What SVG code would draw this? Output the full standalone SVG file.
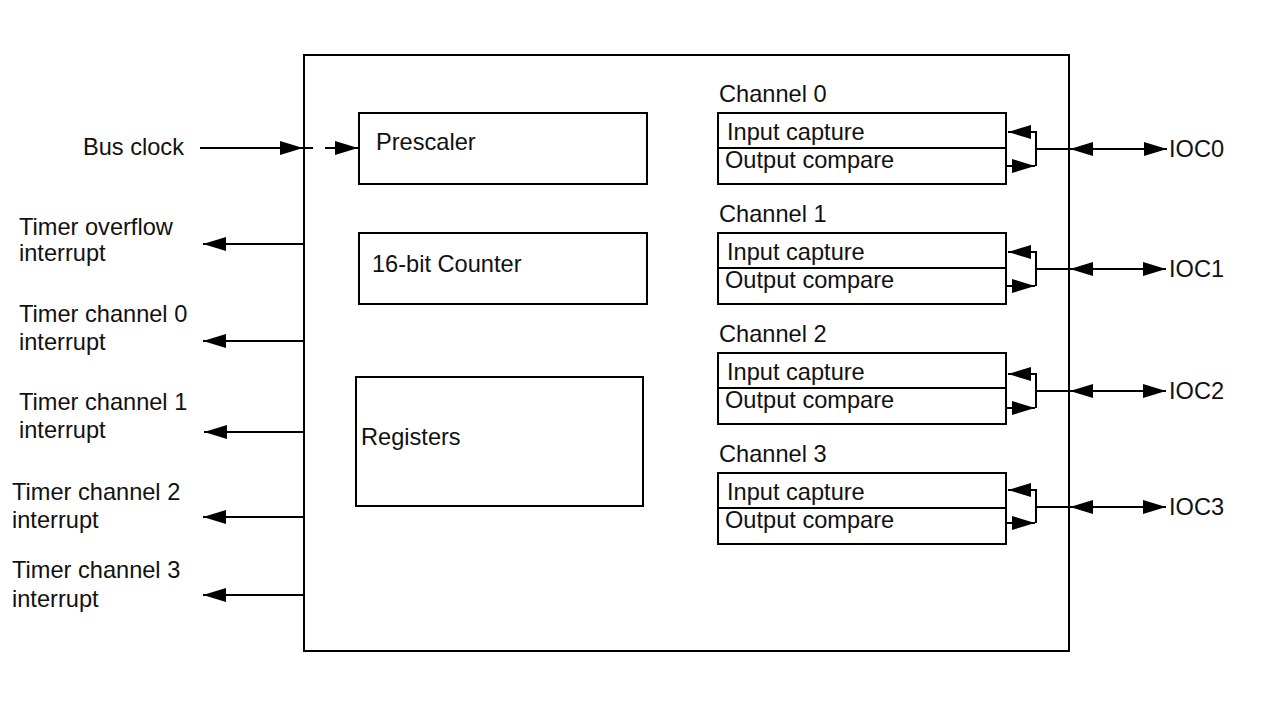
<svg xmlns="http://www.w3.org/2000/svg" width="1269" height="704" viewBox="0 0 1269 704">
<defs>
<marker id="ah" markerUnits="userSpaceOnUse" markerWidth="23" markerHeight="14" refX="23" refY="7" orient="auto-start-reverse" viewBox="0 0 23 14">
<path d="M0,0 L23,7 L0,14 z" fill="#000"/>
</marker>
<style>
.box{fill:#fff;stroke:#000;stroke-width:2}
.ln{fill:none;stroke:#000;stroke-width:2}
.t{font-family:"Liberation Sans",Arial,sans-serif;font-size:23.6px;fill:#111}
.arr{fill:none;stroke:#000;stroke-width:2;marker-end:url(#ah)}
.dbl{fill:none;stroke:#000;stroke-width:2;marker-start:url(#ah);marker-end:url(#ah)}
</style>
</defs>
<rect width="1269" height="704" fill="#fff"/>
<g id="timer">
<rect class="box" x="304" y="55" width="765" height="596"/>
</g>
<g id="prescaler">
<rect class="box" x="359" y="113" width="288" height="71"/>
<text class="t" x="376" y="150">Prescaler</text>
</g>
<g id="counter">
<rect class="box" x="359" y="233" width="288" height="71"/>
<text class="t" x="372" y="272">16-bit Counter</text>
</g>
<g id="registers">
<rect class="box" x="356" y="377" width="287" height="129"/>
<text class="t" x="361" y="445">Registers</text>
</g>
<g id="channel0">
<text class="t" x="719" y="102">Channel 0</text>
<rect class="box" x="718" y="113" width="288" height="71"/>
<line class="ln" x1="718" y1="148" x2="1006" y2="148"/>
<text class="t" x="727" y="140">Input capture</text>
<text class="t" x="725" y="168">Output compare</text>
</g>
<g id="channel1">
<text class="t" x="719" y="222">Channel 1</text>
<rect class="box" x="718" y="233" width="288" height="71"/>
<line class="ln" x1="718" y1="268" x2="1006" y2="268"/>
<text class="t" x="727" y="260">Input capture</text>
<text class="t" x="725" y="288">Output compare</text>
</g>
<g id="channel2">
<text class="t" x="719" y="342">Channel 2</text>
<rect class="box" x="718" y="353" width="288" height="71"/>
<line class="ln" x1="718" y1="388" x2="1006" y2="388"/>
<text class="t" x="727" y="380">Input capture</text>
<text class="t" x="725" y="408">Output compare</text>
</g>
<g id="channel3">
<text class="t" x="719" y="462">Channel 3</text>
<rect class="box" x="718" y="473" width="288" height="71"/>
<line class="ln" x1="718" y1="508" x2="1006" y2="508"/>
<text class="t" x="727" y="500">Input capture</text>
<text class="t" x="725" y="528">Output compare</text>
</g>
<g id="labels">
<text class="t" x="83" y="155">Bus clock</text>
<text class="t" x="19" y="235">Timer overflow</text>
<text class="t" x="19" y="261">interrupt</text>
<text class="t" x="19" y="322">Timer channel 0</text>
<text class="t" x="19" y="350">interrupt</text>
<text class="t" x="19" y="410">Timer channel 1</text>
<text class="t" x="19" y="438">interrupt</text>
<text class="t" x="12" y="500">Timer channel 2</text>
<text class="t" x="12" y="528">interrupt</text>
<text class="t" x="12" y="578">Timer channel 3</text>
<text class="t" x="12" y="607">interrupt</text>
<text class="t" x="1169" y="157">IOC0</text>
<text class="t" x="1169" y="277">IOC1</text>
<text class="t" x="1169" y="399">IOC2</text>
<text class="t" x="1169" y="515">IOC3</text>
</g>
<g id="connectors">
<line class="arr" x1="200" y1="148" x2="303" y2="148"/>
<line class="ln" x1="304" y1="148" x2="313" y2="148"/>
<line class="arr" x1="325" y1="148" x2="358" y2="148"/>
<line class="arr" x1="304" y1="244" x2="203" y2="244"/>
<line class="arr" x1="304" y1="341" x2="203" y2="341"/>
<line class="arr" x1="304" y1="432" x2="204" y2="432"/>
<line class="arr" x1="304" y1="517" x2="203" y2="517"/>
<line class="arr" x1="304" y1="595" x2="203" y2="595"/>
<path class="arr" d="M1036,149 V132 H1008"/>
<path class="ln" d="M1036,149 V166"/>
<line class="arr" x1="1006" y1="166" x2="1035" y2="166"/>
<line class="ln" x1="1036" y1="149" x2="1069" y2="149"/>
<line class="dbl" x1="1070" y1="149" x2="1167" y2="149"/>
<path class="arr" d="M1036,269 V252 H1008"/>
<path class="ln" d="M1036,269 V286"/>
<line class="arr" x1="1006" y1="286" x2="1035" y2="286"/>
<line class="ln" x1="1036" y1="269" x2="1069" y2="269"/>
<line class="dbl" x1="1070" y1="269" x2="1166" y2="269"/>
<path class="arr" d="M1036,391 V374 H1008"/>
<path class="ln" d="M1036,391 V408"/>
<line class="arr" x1="1006" y1="408" x2="1035" y2="408"/>
<line class="ln" x1="1036" y1="391" x2="1069" y2="391"/>
<line class="dbl" x1="1070" y1="391" x2="1166" y2="391"/>
<path class="arr" d="M1036,507 V490 H1008"/>
<path class="ln" d="M1036,507 V523"/>
<line class="arr" x1="1006" y1="523" x2="1035" y2="523"/>
<line class="ln" x1="1036" y1="507" x2="1069" y2="507"/>
<line class="dbl" x1="1070" y1="507" x2="1166" y2="507"/>
</g>
</svg>
